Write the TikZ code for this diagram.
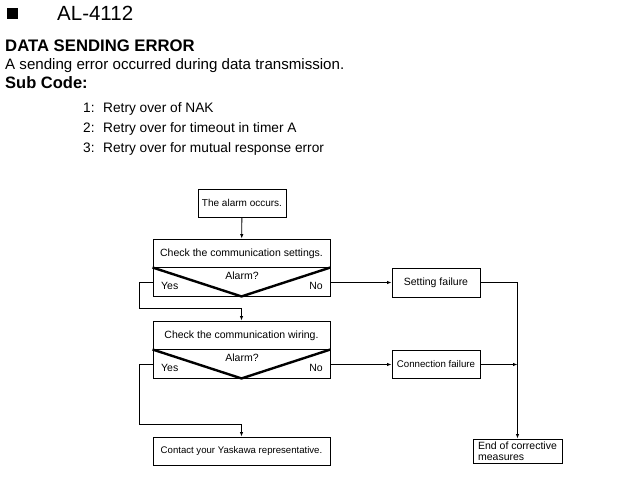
\documentclass[tikz,border=0pt]{standalone}
\usepackage{fontspec}
\setmainfont{Liberation Sans}
\usetikzlibrary{arrows.meta}
\begin{document}
\begin{tikzpicture}[x=1pt, y=-1pt, font=\fontsize{10.5}{11}\selectfont,
  box/.style={draw, line width=0.9pt, inner sep=1pt},
  line/.style={line width=0.8pt},
  arr/.style={line width=0.8pt, -{Latex[length=4.5pt, width=3.5pt]}}]
  \useasboundingbox (0,0) rectangle (625,502);

  % Header
  \node[fill=black, minimum size=10.5pt, inner sep=0pt] (bullet) at (12.5,13.5) {};
  \node[anchor=base west, inner sep=0pt, font=\fontsize{20.5}{24}\selectfont] (code) at (57,21) {AL-4112};
  \node[anchor=base west, inner sep=0pt, font=\fontsize{16.7}{20}\selectfont\bfseries] (title) at (5,51.5) {DATA SENDING ERROR};
  \node[anchor=base west, inner sep=0pt, font=\fontsize{15.1}{18}\selectfont] (desc) at (5,69.5) {A sending error occurred during data transmission.};
  \node[anchor=base west, inner sep=0pt, font=\fontsize{16.5}{20}\selectfont\bfseries] (sub) at (5,88.5) {Sub Code:};

  % Sub codes
  \node[anchor=base west, inner sep=0pt, font=\fontsize{13.7}{16}\selectfont] (n1) at (83,113) {1:};
  \node[anchor=base west, inner sep=0pt, font=\fontsize{13.7}{16}\selectfont] (s1) at (103,113) {Retry over of NAK};
  \node[anchor=base west, inner sep=0pt, font=\fontsize{13.7}{16}\selectfont] (n2) at (83,133) {2:};
  \node[anchor=base west, inner sep=0pt, font=\fontsize{13.7}{16}\selectfont] (s2) at (103,133) {Retry over for timeout in timer A};
  \node[anchor=base west, inner sep=0pt, font=\fontsize{13.7}{16}\selectfont] (n3) at (83,153) {3:};
  \node[anchor=base west, inner sep=0pt, font=\fontsize{13.7}{16}\selectfont] (s3) at (103,153) {Retry over for mutual response error};

  % Flowchart boxes
  \node[box, minimum width=88pt, minimum height=28pt, font=\fontsize{10}{11}\selectfont] (occ) at (242,203) {The alarm occurs.};
  \node[box, minimum width=177pt, minimum height=57pt] (set) at (241.5,267.5) {};
  \node (setT) at (241.5,253.5) {Check the communication settings.};
  \node[box, minimum width=177pt, minimum height=57pt] (wir) at (241.5,349.5) {};
  \node (wirT) at (241.5,335.5) {Check the communication wiring.};
  \node[box, minimum width=177pt, minimum height=28pt, font=\fontsize{9.6}{11}\selectfont] (cont) at (241.5,451) {Contact your Yaskawa representative.};
  \node[box, minimum width=88pt, minimum height=29pt] (sfail) at (436,282.5) {Setting failure};
  \node[box, minimum width=88pt, minimum height=28pt, font=\fontsize{9.7}{11}\selectfont] (cfail) at (436,364.5) {Connection failure};
  \node[box, minimum width=89pt, minimum height=24pt, align=left, font=\fontsize{10.5}{11}\selectfont] (endm) at (517.5,451) {End of corrective\\measures};

  % Decision parts
  \draw[line] (set.west) -- (set.east);
  \draw[line width=2.4pt] (set.west) -- (set.south) -- (set.east);
  \node[anchor=base] (alarm1) at (242,280) {Alarm?};
  \node[anchor=base west, inner sep=0pt] (yes1) at (161,290) {Yes};
  \node[anchor=base east, inner sep=0pt] (no1) at (323,290) {No};

  \draw[line] (wir.west) -- (wir.east);
  \draw[line width=2.4pt] (wir.west) -- (wir.south) -- (wir.east);
  \node[anchor=base] (alarm2) at (242,362) {Alarm?};
  \node[anchor=base west, inner sep=0pt] (yes2) at (161,372) {Yes};
  \node[anchor=base east, inner sep=0pt] (no2) at (323,372) {No};

  % Connectors
  \draw[arr] (occ) -- (set);
  \draw[arr] ([yshift=-15pt]set.west) -- ++(-13,0) |- ([yshift=12pt]wir.north) -- (wir.north);
  \draw[arr] ([yshift=-15pt]wir.west) -- ++(-13,0) |- ([yshift=12pt]cont.north) -- (cont.north);
  \draw[arr] (set.east |- sfail) -- (sfail);
  \draw[arr] (wir.east |- cfail) -- (cfail);
  \draw[arr] (sfail.east) -| (endm.north);
  \draw[arr] (cfail.east) -- (cfail.east -| endm.north);

\end{tikzpicture}
\end{document}
